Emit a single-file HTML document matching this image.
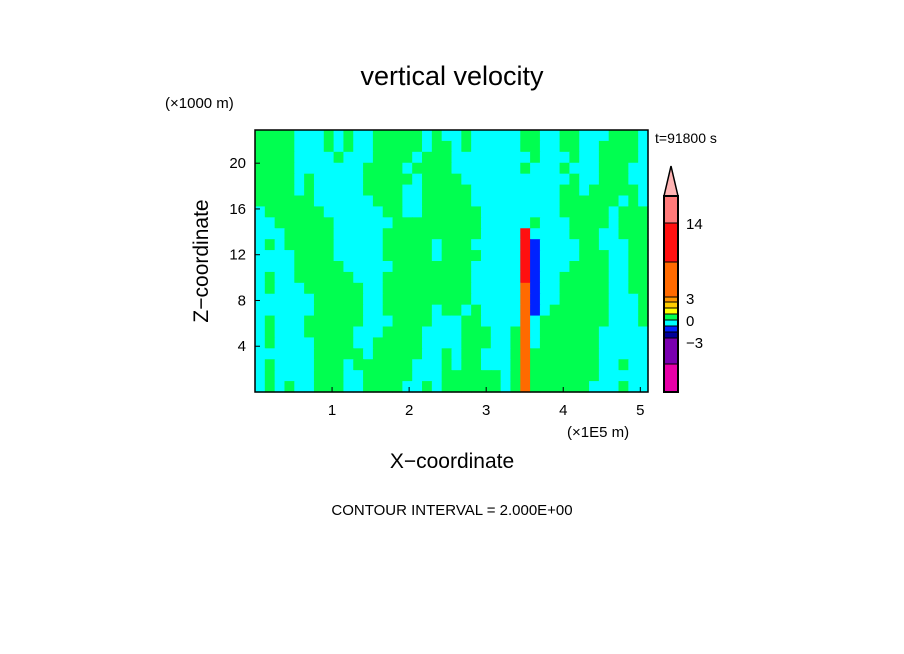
<!DOCTYPE html>
<html><head><meta charset="utf-8"><style>
html,body{margin:0;padding:0;background:#fff;}
svg{display:block;font-family:"Liberation Sans",sans-serif;}
</style></head><body>
<svg id="chart" width="904" height="654" viewBox="0 0 904 654">
<text x="452" y="85" font-size="27" text-anchor="middle">vertical velocity</text>
<text x="165" y="108" font-size="15">(×1000 m)</text>
<text x="655" y="143" font-size="14">t=91800 s</text>
<g id="cells"></g>
<rect x="255" y="130" width="393" height="262" fill="none" stroke="#000" stroke-width="1.5"/>
<g id="xticks"></g>
<g id="yticks"></g>
<text x="567" y="437" font-size="15">(×1E5 m)</text>
<text x="452" y="468" font-size="21" text-anchor="middle">X−coordinate</text>
<text transform="translate(208,261) rotate(-90)" font-size="21" text-anchor="middle">Z−coordinate</text>
<g id="cbar"></g>
<text x="452" y="515" font-size="15" text-anchor="middle">CONTOUR INTERVAL = 2.000E+00</text>
</svg>
<script>
const xTicks = [1,2,3,4,5];
const yTicks = [4,8,12,16,20];
const xDomain = [0, 5.1];
const zDomain = [0, 22.9];
const cellCodes = {c:-0.5, g:0.5, y:1.5, b:-1.5, d:-2.5, o:5, r:10};
const fieldRows = [
"ggggcccgcg ccgggggcgc cgcccccggc cggcccgggc",
"ggggcccgcg ccgggggcgg cgcccccggc cggccggggc",
"ggggccccgc ccggggcggg ccccccccgc ccgccggggc",
"ggggcccccc cggggcgggg cccccccgcc cgcccgggcc",
"ggggcgcccc cgggggcggg gccccccccc ccgccgggcc",
"ggggcgcccc cggggccggg ggcccccccc cggcgggggc",
"ggggggcccc ccgggccggg ggcccccccc cggggggcgc",
"cggggggccc cccggccggg gggccccccc cgggggcggg",
"ccggggggcc ccccgggggg gggcccccgc ccggggcggg",
"cccgggggcc cccggggggg gggccccrcc ccgggccggg",
"cgcgggggcc cccgggggcg ggcccccrbc cccggcccgg",
"ccccggggcc cccgggggcg gggccccrbc cccgggccgg",
"ccccgggggc ccccgggggg ggcccccrbc ccggggccgg",
"cgccgggggg cccggggggg ggcccccrbc cgggggccgg",
"cgcccggggg gccggggggg ggcccccobc cgggggccgg",
"ccccccgggg gccggggggg ggcccccobc cgggggcccg",
"ccccccgggg gccgggggcg gcgccccobc ggggggcccg",
"cgcccggggg gcccggggcc cggccccocg ggggggcccg",
"cgcccggggg cccggggccc cgggccgocg gggggccccc",
"cgccccgggg ccgggggccc cgggccgocg gggggccccc",
"ccccccgggg gcgggggccg cggcccgogg gggggccccc",
"cgccccgggc ggggggcccg cggcccgogg gggggccgcc",
"cgccccgggc cgggggcccg gggggcgogg gggggccccc",
"cgcgccgggc cggggccgcg gggggcgogg ggggcccgcc"
];
const levels = [-5,-3,-2,-1,0,1,2,3,8,14,20];
const levelColors = ["#e800a8","#7a00b0","#000098","#0022ff","#00ffff","#00ff50","#ffff00","#ffcc00","#ff6a00","#ff1010","#ff7a7a","#ffb4b4"];
const barColors = ["#e800a8","#7a00b0","#000098","#0022ff","#00ffff","#00ff50","#ffff00","#ffcc00","#ff9900","#ff6a00","#ff1010","#ff7a7a"];
const barLabels = [["14",14],["3",3],["0",0],["−3",-3]];

const NS="http://www.w3.org/2000/svg";
const PX0=255,PX1=648,PY0=392,PY1=130;
function sx(v){return PX0+(v-xDomain[0])/(xDomain[1]-xDomain[0])*(PX1-PX0);}
function sz(v){return PY0-(v-zDomain[0])/(zDomain[1]-zDomain[0])*(PY0-PY1);}
function colorFor(v){let i=0;while(i<levels.length&&v>=levels[i])i++;return levelColors[i];}
function mk(tag,attrs,parent){const e=document.createElementNS(NS,tag);for(const k in attrs)e.setAttribute(k,attrs[k]);parent.appendChild(e);return e;}

const rows=fieldRows.map(r=>r.replace(/ /g,''));
const nR=rows.length,nC=40;
const cg=document.getElementById('cells');
for(let r=0;r<nR;r++){
  const zTop=zDomain[1]-r*(zDomain[1]-zDomain[0])/nR, zBot=zDomain[1]-(r+1)*(zDomain[1]-zDomain[0])/nR;
  for(let c=0;c<nC;c++){
    const ch=rows[r][c]||'c';
    const v=cellCodes[ch];
    const x0=xDomain[0]+c*(xDomain[1]-xDomain[0])/nC, x1=xDomain[0]+(c+1)*(xDomain[1]-xDomain[0])/nC;
    const e=mk('rect',{x:sx(x0).toFixed(2),y:sz(zTop).toFixed(2),width:(sx(x1)-sx(x0)+0.6).toFixed(2),height:(sz(zBot)-sz(zTop)+0.6).toFixed(2),fill:colorFor(v)},cg);
    
    
  }
}
const xg=document.getElementById('xticks');
xTicks.forEach(t=>{
  const l=mk('line',{x1:sx(t),x2:sx(t),y1:PY0,y2:PY0-5,stroke:'#000'},xg);
  
  
  const e=mk('text',{x:sx(t),y:PY0+23,'font-size':15,'text-anchor':'middle'},xg);
  e.textContent=t;
  
  
});
const yg=document.getElementById('yticks');
yTicks.forEach(t=>{
  const l=mk('line',{x1:PX0,x2:PX0+5,y1:sz(t),y2:sz(t),stroke:'#000'},yg);
  
  
  const e=mk('text',{x:246,y:sz(t)+5,'font-size':15,'text-anchor':'end'},yg);
  e.textContent=t;
  
  
});
const cb=document.getElementById('cbar');
const segEdges=[392,364,338,332,326,320,314,308,302,297,262,223,196];
for(let i=0;i<barColors.length;i++){
  const e=mk('rect',{x:664,y:segEdges[i+1],width:14,height:segEdges[i]-segEdges[i+1],fill:barColors[i],stroke:'#000','stroke-width':1},cb);
  
  
}
const tri=mk('polygon',{points:'664,196 678,196 671,166',fill:'#ffb4b4',stroke:'#000','stroke-width':1.5},cb);


const fr=mk('rect',{x:664,y:196,width:14,height:196,fill:'none',stroke:'#000','stroke-width':2},cb);


const labelY={"14":223,"3":298,"0":320,"−3":342};
barLabels.forEach(b=>{
  const e=mk('text',{x:686,y:labelY[b[0]]+6,'font-size':15},cb);
  e.textContent=b[0];
  
  
});
</script>
</body></html>
